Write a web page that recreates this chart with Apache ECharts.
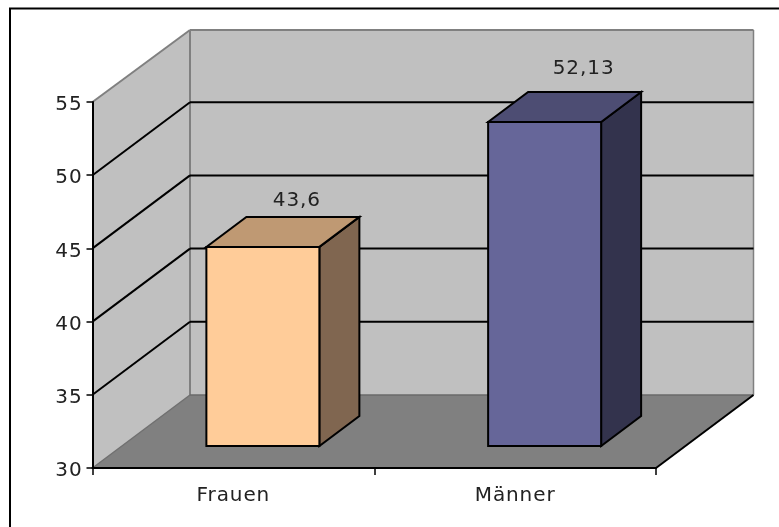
<!DOCTYPE html>
<html>
<head>
<meta charset="utf-8">
<style>html,body{margin:0;padding:0;background:#fff;overflow:hidden}#c{width:779px;height:527px}</style>
<script src="https://cdn.jsdelivr.net/npm/echarts@6/dist/echarts.min.js"></script>
</head>
<body>
<div id="c"></div>
<script>
const categories = ['Frauen', 'Männer'];
const values = [43.6, 52.13];
const yTicks = [35, 40, 45, 50, 55];
const yMin = 30, yMax = 55, yStep = 5;
const frontColors = ['#FFCC99', '#666699'];
const topColors = ['#BF9973', '#4D4D73'];
const sideColors = ['#806650', '#33334D'];

const wallDX = 97.5, wallDY = -73;
const barWidth = 113, barDX = 29.5, barDY = -22, barDepthX = 40, barDepthY = -30;
const labelNudge = [[34, -16], [39, -23]];
const FONT = '"DejaVu Sans", Verdana, sans-serif', FS = 20;

// the reference text is set slightly wider than the installed font
const origGetContext = HTMLCanvasElement.prototype.getContext;
HTMLCanvasElement.prototype.getContext = function () {
  const ctx = origGetContext.apply(this, arguments);
  if (ctx && 'letterSpacing' in ctx) ctx.letterSpacing = '0.9px';
  return ctx;
};

function poly(points, fill, stroke, lw) {
  return { type: 'polygon', shape: { points }, style: { fill, stroke: stroke || 'none', lineWidth: lw || 0, lineJoin: 'miter' } };
}
function seg(a, b, stroke, lw) {
  return { type: 'line', shape: { x1: a[0], y1: a[1], x2: b[0], y2: b[1] }, style: { stroke, lineWidth: lw } };
}

function renderWalls(params, api) {
  const g = params.coordSys, L = g.x, R = g.x + g.width;
  const b = api.coord([0, yMin])[1], t = api.coord([0, yMax])[1];
  const dx = wallDX, dy = wallDY, grey = '#808080';
  const top = t + dy + 1;
  return { type: 'group', children: [
    poly([[L, b], [L + dx, b + dy], [L + dx, top], [L, t]], '#C0C0C0'),
    poly([[L + dx, b + dy], [R + dx, b + dy], [R + dx, top], [L + dx, top]], '#C0C0C0'),
    poly([[L, b], [R, b], [R + dx, b + dy], [L + dx, b + dy]], '#808080'),
    seg([L, t], [L + dx, top], grey, 2),
    seg([L + dx, top], [R + dx, top], grey, 2),
    seg([L + dx, top], [L + dx, b + dy], grey, 2),
    seg([R + dx, top], [R + dx, b + dy], grey, 1.5),
    seg([L + dx, b + dy], [R + dx, b + dy], '#6a6a6a', 1.5),
    seg([L, b], [L + dx, b + dy], '#707070', 1.5),
    seg([R, b], [R + dx, b + dy], '#000', 2)
  ] };
}

function renderGridline(params, api) {
  const g = params.coordSys, L = g.x, R = g.x + g.width;
  const v = api.value(1);
  const y = api.coord([0, v])[1];
  const kids = [];
  if (v < yMax) {
    kids.push(seg([L + wallDX, y + wallDY], [R + wallDX, y + wallDY], '#000', 2));
    kids.push(seg([L, y], [L + wallDX, y + wallDY], '#000', 2));
  }
  return { type: 'group', children: kids };
}

function renderBar(params, api) {
  const i = params.dataIndex;
  const top = api.coord([api.value(0), api.value(1)]);
  const base = api.coord([api.value(0), yMin]);
  const x0 = top[0] + barDX - barWidth / 2, x1 = x0 + barWidth;
  const yt = top[1] + barDY, yb = base[1] + barDY;
  const dx = barDepthX, dy = barDepthY, s = '#000', lw = 2;
  return { type: 'group', children: [
    poly([[x1, yt], [x1 + dx, yt + dy], [x1 + dx, yb + dy], [x1, yb]], sideColors[i], s, lw),
    poly([[x0, yt], [x1, yt], [x1 + dx, yt + dy], [x0 + dx, yt + dy]], topColors[i], s, lw),
    poly([[x0, yt], [x1, yt], [x1, yb], [x0, yb]], frontColors[i], s, lw),
    { type: 'text', x: (x0 + x1) / 2 + labelNudge[i][0], y: yt + dy + labelNudge[i][1], style: {
      text: String(api.value(1)).replace('.', ','), fill: '#222', font: FS + 'px ' + FONT,
      textAlign: 'center', textVerticalAlign: 'middle' } }
  ] };
}

const option = {
  animation: false,
  backgroundColor: '#fff',
  grid: { left: 92.5, right: 123, top: 102, bottom: 59 },
  graphic: [{ type: 'rect', z: 100, shape: { x: 10, y: 8.5, width: 1000, height: 1000 },
    style: { fill: 'none', stroke: '#000', lineWidth: 2 } }],
  xAxis: { type: 'category', data: categories, z: 10,
    axisLine: { lineStyle: { color: '#000', width: 2 } },
    axisTick: { show: true, alignWithLabel: false, length: 7, lineStyle: { color: '#000', width: 1.5 } },
    axisLabel: { color: '#222', fontFamily: FONT, fontSize: FS, margin: 17 },
    splitLine: { show: false } },
  yAxis: { type: 'value', min: yMin, max: yMax, interval: yStep, z: 10,
    axisLine: { show: true, lineStyle: { color: '#000', width: 2 } },
    axisTick: { show: true, length: 6, lineStyle: { color: '#000', width: 1.5 } },
    axisLabel: { color: '#222', fontFamily: FONT, fontSize: FS, margin: 10, verticalAlign: 'top', lineHeight: 6 },
    splitLine: { show: false } },
  series: [
    { type: 'custom', z: 1, silent: true, clip: false, renderItem: renderWalls, data: [[0, yMin]], encode: { x: 0, y: 1 } },
    { type: 'custom', z: 2, silent: true, clip: false, renderItem: renderGridline, data: yTicks.map(t => [0, t]), encode: { x: 0, y: 1 } },
    { type: 'custom', z: 3, silent: true, clip: false, renderItem: renderBar, data: values.map((v, i) => [i, v]), encode: { x: 0, y: 1 } }
  ]
};
echarts.init(document.getElementById('c')).setOption(option);
</script>
</body>
</html>
